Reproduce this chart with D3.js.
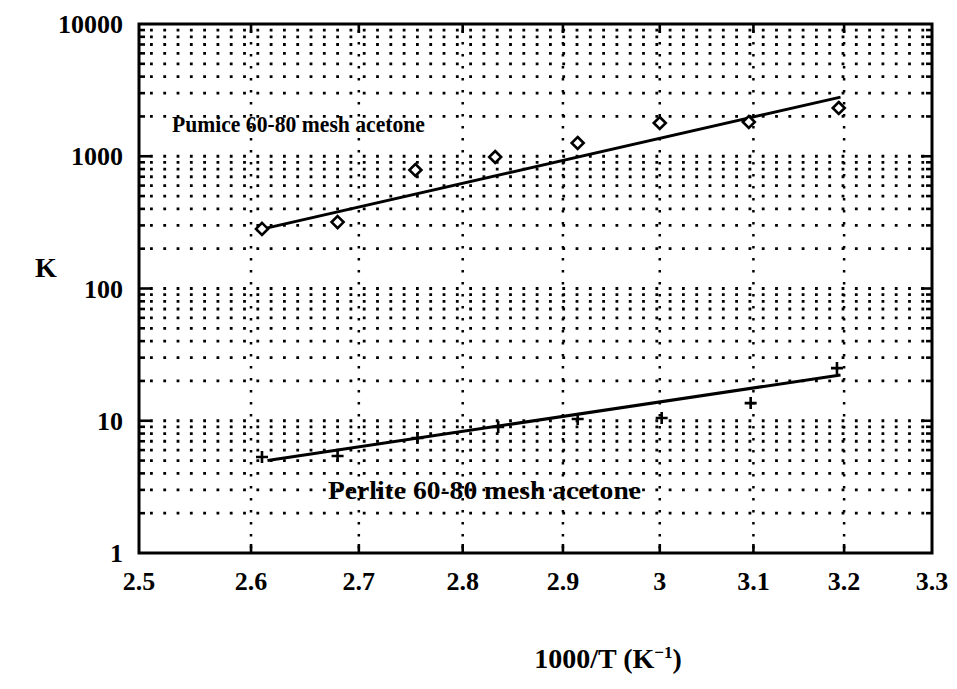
<!DOCTYPE html>
<html>
<head>
<meta charset="utf-8">
<script src="https://cdn.jsdelivr.net/npm/d3@7"></script>
<style>
  body { margin: 0; background: #fff; }
  text { font-family: "Liberation Serif", "DejaVu Serif", serif; font-weight: bold; fill: #000; }
</style>
</head>
<body>
<svg id="drawing_region"></svg>
<script>
// tick labels
const x_ticks = [2.5, 2.6, 2.7, 2.8, 2.9, 3.0, 3.1, 3.2, 3.3];
const x_tick_labels = ["2.5", "2.6", "2.7", "2.8", "2.9", "3", "3.1", "3.2", "3.3"];
const y_ticks = [1, 10, 100, 1000, 10000];
const y_tick_labels = ["1", "10", "100", "1000", "10000"];

// measured points (1000/T, K)
const pumice_x = [2.61, 2.68, 2.754, 2.832, 2.915, 3.0, 3.095, 3.194];
const pumice_k = [282, 318, 787, 987, 1259, 1785, 1815, 2317];
const perlite_x = [2.61, 2.68, 2.756, 2.835, 2.915, 3.002, 3.097, 3.192];
const perlite_k = [5.32, 5.41, 7.41, 8.97, 10.3, 10.5, 13.6, 25.0];

// fitted lines (end points)
const pumice_fit_x = [2.605, 3.196];
const pumice_fit_k = [275, 2800];
const perlite_fit_x = [2.615, 3.196];
const perlite_fit_k = [5.0, 22.2];

const config = {
    parent: '#drawing_region',
    width: 957,
    height: 689,
    margin: {top:24, right:25, bottom:136, left:139}
};

class LogLogPlot {

    constructor( config ) {
        this.config = config;
        this.init();
    }

    init() {
        let self = this;

        self.svg = d3.select( self.config.parent )
            .attr('width', self.config.width)
            .attr('height', self.config.height);

        self.inner_width = self.config.width - self.config.margin.left - self.config.margin.right;
        self.inner_height = self.config.height - self.config.margin.top - self.config.margin.bottom;

        self.chart = self.svg.append('g')
            .attr('transform', `translate(${self.config.margin.left}, ${self.config.margin.top})`);

        self.xscale = d3.scaleLog()
            .domain( [2.5, 3.3] )
            .range( [0, self.inner_width] );

        self.yscale = d3.scaleLog()
            .domain( [1, 10000] )
            .range( [self.inner_height, 0] );
    }

    render() {
        let self = this;
        const W = self.inner_width, H = self.inner_height;

        // minor y values: 2..9 x 10^k plus the decades inside
        let y_minor = [];
        for (let k = 0; k < 4; k++) {
            for (let m = 1; m <= 9; m++) {
                const v = m * Math.pow(10, k);
                if (v > 1) y_minor.push(v);
            }
        }

        // horizontal dotted grid
        self.chart.append('g').selectAll('line')
            .data(y_minor)
            .join('line')
            .attr('x1', 0).attr('x2', W)
            .attr('y1', d => self.yscale(d)).attr('y2', d => self.yscale(d))
            .attr('stroke', '#000')
            .attr('stroke-width', 2.8)
            .attr('stroke-dasharray', '2.8 10.5')
            .attr('stroke-dashoffset', -11);

        // vertical dotted grid
        self.chart.append('g').selectAll('line')
            .data(x_ticks.slice(1, -1))
            .join('line')
            .attr('x1', d => self.xscale(d)).attr('x2', d => self.xscale(d))
            .attr('y1', 0).attr('y2', H)
            .attr('stroke', '#000')
            .attr('stroke-width', 2.5)
            .attr('stroke-dasharray', '2.5 9.5')
            .attr('stroke-dashoffset', -6);

        // inward ticks, y (left and right)
        [0, W].forEach( (x0, i) => {
            const dir = i === 0 ? 1 : -1;
            self.chart.append('g').selectAll('line')
                .data(y_minor)
                .join('line')
                .attr('x1', x0)
                .attr('x2', d => x0 + dir * (y_ticks.includes(d) ? 11 : 6))
                .attr('y1', d => self.yscale(d)).attr('y2', d => self.yscale(d))
                .attr('stroke', '#000')
                .attr('stroke-width', 2.6);
        });

        // inward ticks, x (top and bottom)
        [0, H].forEach( (y0, i) => {
            const dir = i === 0 ? 1 : -1;
            self.chart.append('g').selectAll('line')
                .data(x_ticks.slice(1, -1))
                .join('line')
                .attr('x1', d => self.xscale(d)).attr('x2', d => self.xscale(d))
                .attr('y1', y0).attr('y2', y0 + dir * 9)
                .attr('stroke', '#000')
                .attr('stroke-width', 2.6);
        });

        // frame
        self.chart.append('rect')
            .attr('x', 0).attr('y', 0)
            .attr('width', W).attr('height', H)
            .attr('fill', 'none')
            .attr('stroke', '#000')
            .attr('stroke-width', 3);

        // fitted lines
        const line = d3.line()
            .x(d => self.xscale(d[0]))
            .y(d => self.yscale(d[1]));

        self.chart.append('path')
            .datum(d3.zip(pumice_fit_x, pumice_fit_k))
            .attr('d', line)
            .attr('fill', 'none')
            .attr('stroke', '#000')
            .attr('stroke-width', 3);

        self.chart.append('path')
            .datum(d3.zip(perlite_fit_x, perlite_fit_k))
            .attr('d', line)
            .attr('fill', 'none')
            .attr('stroke', '#000')
            .attr('stroke-width', 3);

        // pumice markers: diamonds
        self.chart.append('g').selectAll('path')
            .data(d3.zip(pumice_x, pumice_k))
            .join('path')
            .attr('transform', d => `translate(${self.xscale(d[0])}, ${self.yscale(d[1])})`)
            .attr('d', 'M0,-6L6,0L0,6L-6,0Z')
            .attr('fill', '#fff')
            .attr('stroke', '#000')
            .attr('stroke-width', 2.6);

        // perlite markers: plus
        self.chart.append('g').selectAll('path')
            .data(d3.zip(perlite_x, perlite_k))
            .join('path')
            .attr('transform', d => `translate(${self.xscale(d[0])}, ${self.yscale(d[1])})`)
            .attr('d', 'M-6,0H6M0,-6V6')
            .attr('fill', 'none')
            .attr('stroke', '#000')
            .attr('stroke-width', 2.6);

        // series labels
        self.chart.append('text')
            .attr('x', self.xscale(2.529))
            .attr('y', self.yscale(1525))
            .attr('textLength', 253)
            .attr('lengthAdjust', 'spacingAndGlyphs')
            .style('font-size', '24px')
            .text('Pumice 60-80 mesh acetone');

        self.chart.append('text')
            .attr('x', self.xscale(2.671))
            .attr('y', self.yscale(2.55))
            .attr('textLength', 313)
            .attr('lengthAdjust', 'spacingAndGlyphs')
            .style('font-size', '25px')
            .text('Perlite 60-80 mesh acetone');

        // tick labels
        self.chart.append('g').selectAll('text')
            .data(x_ticks)
            .join('text')
            .attr('x', d => self.xscale(d))
            .attr('y', H + 37)
            .attr('text-anchor', 'middle')
            .style('font-size', '26px')
            .text((d, i) => x_tick_labels[i]);

        self.chart.append('g').selectAll('text')
            .data(y_ticks)
            .join('text')
            .attr('x', -16)
            .attr('y', d => self.yscale(d) + 9)
            .attr('text-anchor', 'end')
            .style('font-size', '26px')
            .text((d, i) => y_tick_labels[i]);

        // axis titles
        self.svg.append('text')
            .attr('x', 46)
            .attr('y', 277)
            .attr('text-anchor', 'middle')
            .style('font-size', '28px')
            .text('K');

        const xt = self.svg.append('text')
            .attr('x', 608)
            .attr('y', 668)
            .attr('text-anchor', 'middle')
            .style('font-size', '28px');
        xt.append('tspan').text('1000/T (K');
        xt.append('tspan').attr('dy', -10).style('font-size', '17px').text('\u22121');
        xt.append('tspan').attr('dy', 10).text(')');
    }
}

const plot = new LogLogPlot( config );
plot.render();
</script>
</body>
</html>
